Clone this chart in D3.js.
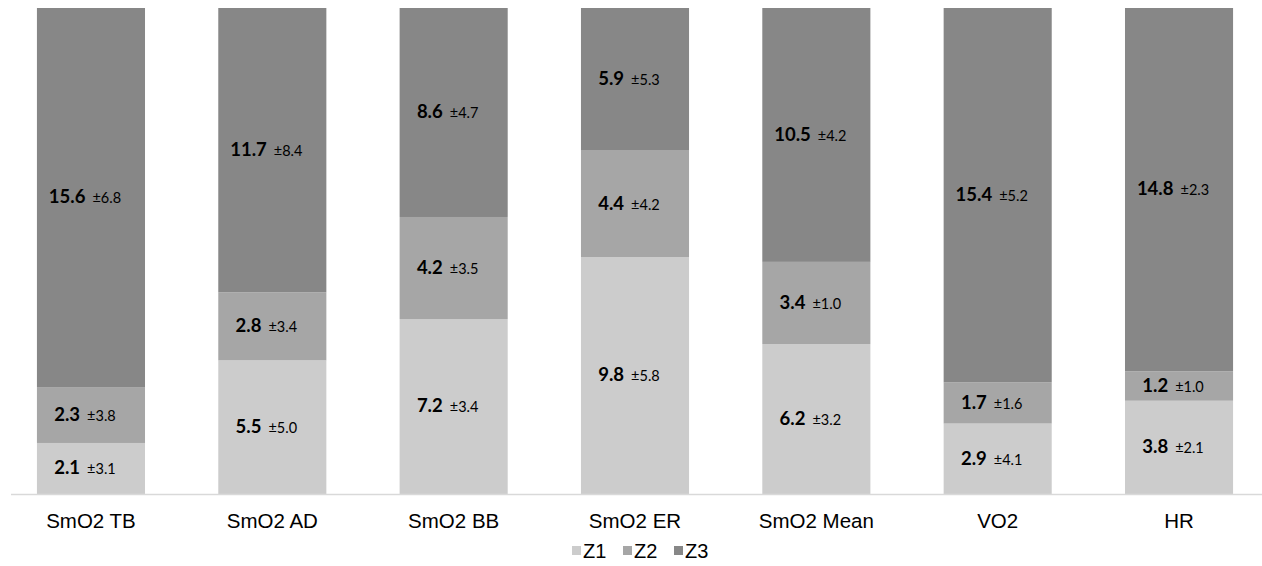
<!DOCTYPE html>
<html>
<head>
<meta charset="utf-8">
<script src="https://cdn.jsdelivr.net/npm/d3@7"></script>
<style>
  html, body { margin: 0; padding: 0; background: #ffffff; }
  svg { display: block; }
</style>
</head>
<body>
<svg id="chart" width="1262" height="566"></svg>
<script>
// Time spent in each intensity zone, per measure (mean and SD)
const categories = ["SmO2 TB", "SmO2 AD", "SmO2 BB", "SmO2 ER", "SmO2 Mean", "VO2", "HR"];
const zones = ["Z1", "Z2", "Z3"];
const z1Mean = [2.1, 5.5, 7.2, 9.8, 6.2, 2.9, 3.8];
const z1Sd   = [3.1, 5.0, 3.4, 5.8, 3.2, 4.1, 2.1];
const z2Mean = [2.3, 2.8, 4.2, 4.4, 3.4, 1.7, 1.2];
const z2Sd   = [3.8, 3.4, 3.5, 4.2, 1.0, 1.6, 1.0];
const z3Mean = [15.6, 11.7, 8.6, 5.9, 10.5, 15.4, 14.8];
const z3Sd   = [6.8, 8.4, 4.7, 5.3, 4.2, 5.2, 2.3];
const zoneColors = ["#cccccc", "#a6a6a6", "#878787"];

const means = { Z1: z1Mean, Z2: z2Mean, Z3: z3Mean };
const sds = { Z1: z1Sd, Z2: z2Sd, Z3: z3Sd };
const rows = categories.map((c, i) => {
  const r = { category: c };
  zones.forEach(z => { r[z] = means[z][i]; });
  return r;
});

const svg = d3.select("#chart");
const x = d3.scaleBand().domain(categories).range([11, 1259])
  .paddingInner(0.404).paddingOuter(0.143);
const y = d3.scaleLinear().domain([0, 1]).range([494, 8]);
const color = d3.scaleOrdinal().domain(zones).range(zoneColors);

// 100% stacked columns
const series = d3.stack().keys(zones).offset(d3.stackOffsetExpand)(rows);

const layer = svg.append("g").selectAll("g").data(series).join("g")
  .attr("fill", d => color(d.key));

layer.selectAll("rect").data(d => d).join("rect")
  .attr("x", d => x(d.data.category))
  .attr("y", d => y(d[1]))
  .attr("width", x.bandwidth())
  .attr("height", d => y(d[0]) - y(d[1]));

// Segment labels: bold mean followed by smaller ±SD
const labels = svg.append("g");
series.forEach(s => {
  s.forEach((d, i) => {
    const cx = x(d.data.category) + x.bandwidth() / 2 - 6;
    const cy = (y(d[0]) + y(d[1])) / 2;
    const t = labels.append("text")
      .attr("x", cx).attr("y", cy).attr("dy", "0.36em")
      .attr("text-anchor", "middle")
      .attr("fill", "#000000")
      .style("font-family", "Lato, 'Open Sans', sans-serif");
    t.append("tspan").attr("font-weight", "bold").attr("font-size", "18.5px")
      .text(means[s.key][i].toFixed(1));
    t.append("tspan").attr("font-size", "14.5px").attr("dx", "7")
      .text("±" + sds[s.key][i].toFixed(1));
  });
});

// Category axis
const axis = svg.append("g").attr("transform", "translate(0,494.5)")
  .call(d3.axisBottom(x).tickSize(0).tickSizeOuter(0));
axis.select(".domain").remove();
axis.append("line").attr("x1", 11).attr("x2", 1262).attr("y1", 0).attr("y2", 0)
  .attr("stroke", "#d9d9d9").attr("stroke-width", 1.5);
axis.selectAll(".tick text")
  .attr("y", 33).attr("dy", null)
  .attr("fill", "#000000")
  .style("font-family", "'Liberation Sans', Arial, sans-serif")
  .style("font-size", "20.5px");

// Legend
const legendX = [572, 623, 674];
const legend = svg.append("g").selectAll("g").data(zones).join("g")
  .attr("transform", (d, i) => `translate(${legendX[i]},0)`);
legend.append("rect").attr("x", 0).attr("y", 546).attr("width", 9).attr("height", 9)
  .attr("fill", d => color(d));
legend.append("text").attr("x", 11).attr("y", 558).text(d => d)
  .attr("fill", "#000000")
  .style("font-family", "'Liberation Sans', Arial, sans-serif")
  .style("font-size", "20px");
</script>
</body>
</html>
